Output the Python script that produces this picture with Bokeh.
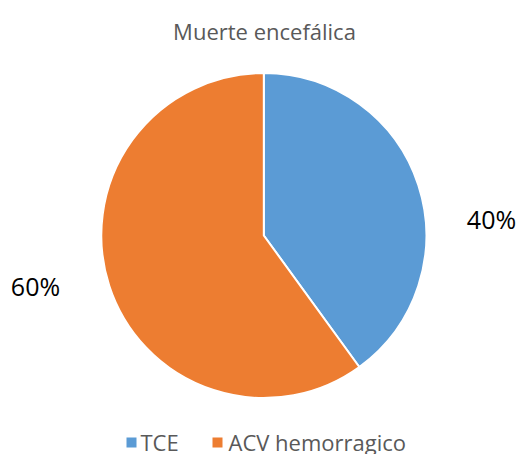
import math
from bokeh.plotting import figure
from bokeh.models import Range1d, ColumnDataSource
from bokeh.core.properties import value
from bokeh.embed import file_html
from bokeh.resources import INLINE

title_text = "Muerte encefálica"
categories = ["TCE", "ACV hemorragico"]
values = [40, 60]
colors = ["#5B9BD5", "#ED7D31"]

W, H = 519, 454
p = figure(width=W, height=H, output_backend="svg", toolbar_location=None,
           x_range=Range1d(0, W), y_range=Range1d(0, H), min_border=0)
p.axis.visible = False
p.grid.visible = False
p.outline_line_color = None
p.background_fill_color = "white"
p.border_fill_color = "white"

def sy(y):  # screen y -> data y
    return H - y

def sx(x):
    return x

cx, cy, r = sx(263.3), sy(235), 162.5
total = sum(values)
starts, ends = [], []
a = math.pi / 2
for v in values:
    span = 2 * math.pi * v / total
    ends.append(a)
    starts.append(a - span)
    a -= span
src = ColumnDataSource(dict(start=starts, end=ends, color=colors))
p.wedge(x=cx, y=cy, radius=r, start_angle="start", end_angle="end",
        fill_color="color", line_color="white", line_width=2, source=src)

# title
p.text(x=[sx(264)], y=[sy(30)], text=[title_text], text_align="center",
       text_baseline="middle", text_font=value("Open Sans"),
       text_font_size="22px", text_color="#595959")

# percent labels
pct = [f"{round(100 * v / total)}%" for v in values]
lx = [sx(491), sx(35)]
ly = [sy(218), sy(285)]
p.text(x=lx, y=ly, text=pct, text_align="center", text_baseline="middle",
       text_font=value("Open Sans"), text_font_size="25px", text_color="#000000")

# legend
sq_x = [sx(131), sx(217)]
p.rect(x=sq_x, y=[sy(442)] * 2, width=10, height=10, fill_color=colors, line_color=None)
p.text(x=[sx(140), sx(228)], y=[sy(441)] * 2, text=categories, text_align="left",
       text_baseline="middle", text_font=value("Open Sans"), text_font_size="22px",
       text_color="#595959")

open("out.html", "w").write(file_html(p, INLINE))
